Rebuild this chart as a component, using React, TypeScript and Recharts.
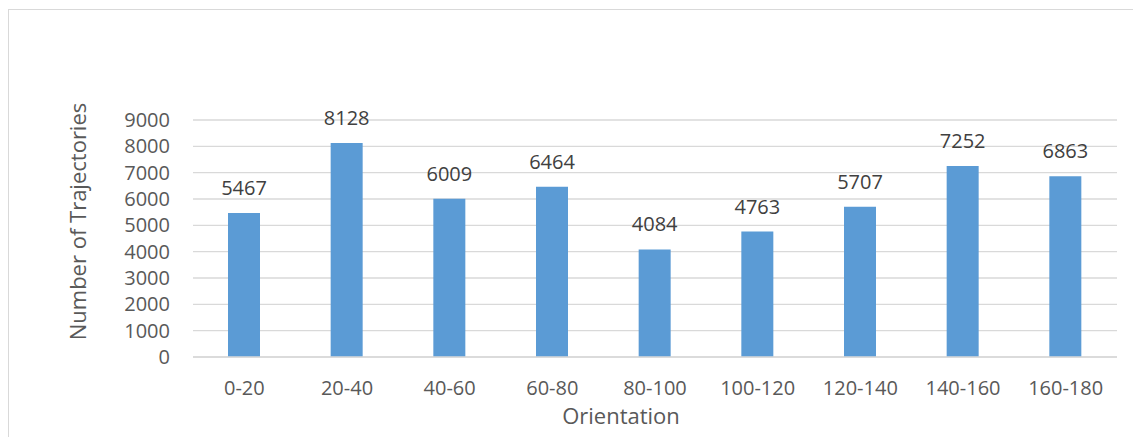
import React from 'react';
import { BarChart, Bar, XAxis, YAxis, CartesianGrid, LabelList, Label } from 'recharts';

const categories = ['0-20', '20-40', '40-60', '60-80', '80-100', '100-120', '120-140', '140-160', '160-180'];
const trajectories = [5467, 8128, 6009, 6464, 4084, 4763, 5707, 7252, 6863];
const yTicks = [0, 1000, 2000, 3000, 4000, 5000, 6000, 7000, 8000, 9000];

const data = categories.map((c, i) => ({ orientation: c, count: trajectories[i] }));

const FONT = '"Open Sans", sans-serif';

const XTitle = () => (
  <text x={612} y={405} textAnchor="middle" dominantBaseline="central" fill="#595959" fontSize={22} fontFamily={FONT}>
    Orientation
  </text>
);

const YTitle = () => (
  <text
    x={67.5}
    y={211.5}
    textAnchor="middle"
    dominantBaseline="central"
    fill="#595959"
    fontSize={22}
    fontFamily={FONT}
    transform="rotate(-90 67.5 211.5)"
  >
    Number of Trajectories
  </text>
);

export default function App() {
  return (
    <div
      style={{
        marginTop: 1,
        width: 1200,
        height: 440,
        borderTop: '1px solid #d9d9d9',
        borderLeft: '1px solid #d9d9d9',
        background: '#fff',
        fontFamily: FONT,
      }}
    >
      <BarChart
        width={1133}
        height={427}
        data={data}
        margin={{ top: 110, right: 25, bottom: 0, left: 100 }}
        barSize={32}
      >
        <CartesianGrid vertical={false} stroke="#d9d9d9" strokeWidth={1.3} />
        <XAxis
          dataKey="orientation"
          axisLine={{ stroke: '#d9d9d9', strokeWidth: 1.3 }}
          tickLine={false}
          tickSize={0}
          tickMargin={24}
          height={80}
          interval={0}
          tick={{ fill: '#595959', fontSize: 20, fontFamily: FONT }}
        >
          <Label content={XTitle} />
        </XAxis>
        <YAxis
          width={84}
          domain={[0, 9000]}
          ticks={yTicks}
          interval={0}
          axisLine={false}
          tickLine={false}
          tickSize={0}
          tickMargin={23}
          tick={{ fill: '#595959', fontSize: 20, fontFamily: FONT }}
        >
          <Label content={YTitle} />
        </YAxis>
        <Bar dataKey="count" fill="#5b9bd5" isAnimationActive={false}>
          <LabelList dataKey="count" position="top" offset={18} fill="#404040" fontSize={20} fontFamily={FONT} />
        </Bar>
      </BarChart>
    </div>
  );
}
